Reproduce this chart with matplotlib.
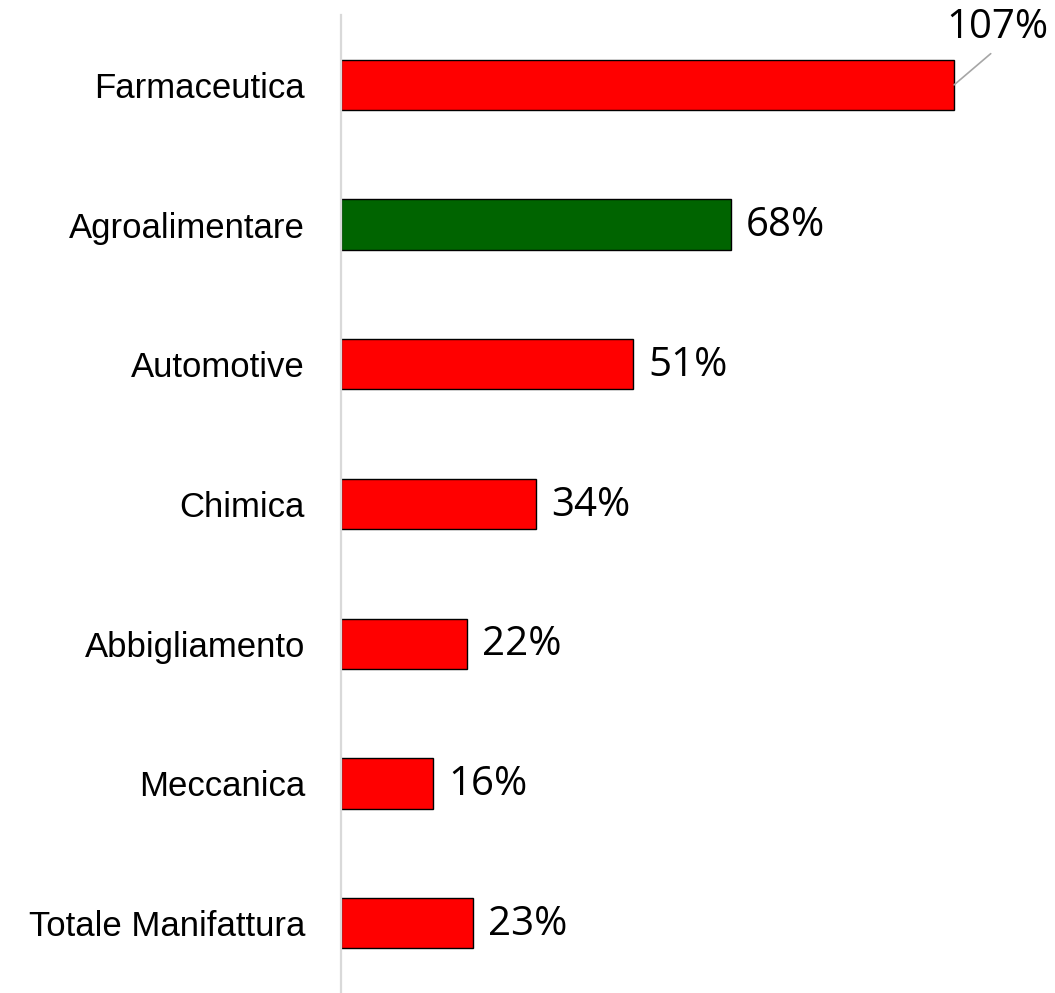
import matplotlib.pyplot as plt

categories = ['Farmaceutica', 'Agroalimentare', 'Automotive', 'Chimica',
              'Abbigliamento', 'Meccanica', 'Totale Manifattura']
values = [107, 68, 51, 34, 22, 16, 23]
colors = ['#FF0000', '#006400', '#FF0000', '#FF0000', '#FF0000', '#FF0000', '#FF0000']

fig = plt.figure(figsize=(10.55, 9.93), dpi=100)
ax = fig.add_axes([341 / 1055, 0, 687.6 / 1055, 978 / 993])

pos = range(len(categories))
ax.barh(pos, values, height=0.36, color=colors, edgecolor='black', linewidth=1)

ax.set_xlim(0, 120)
ax.set_ylim(6.5, -0.5)
ax.set_yticks(list(pos))
ax.set_yticklabels(categories, fontsize=25, family='Liberation Sans')
ax.tick_params(axis='y', length=0, pad=26)
ax.set_xticks([])
for s in ['top', 'right', 'bottom']:
    ax.spines[s].set_visible(False)
ax.spines['left'].set_color('#d9d9d9')
ax.spines['left'].set_linewidth(1.6)

for i, v in enumerate(values):
    if v > 100:
        # label sits above the bar end, joined by a thin leader line
        ax.annotate(f'{v}%', xy=(v, i), xytext=(31, 41), textcoords='offset points',
                    ha='center', va='center', fontsize=29, family='Open Sans',
                    arrowprops=dict(arrowstyle='-', color='#a6a6a6', lw=1.2,
                                    relpos=(0.5, 0), shrinkA=3, shrinkB=0))
    else:
        ax.annotate(f'{v}%', xy=(v, i), xytext=(11, -1), textcoords='offset points',
                    ha='left', va='center', fontsize=29, family='Open Sans')

fig.savefig('out.png', dpi=100)
